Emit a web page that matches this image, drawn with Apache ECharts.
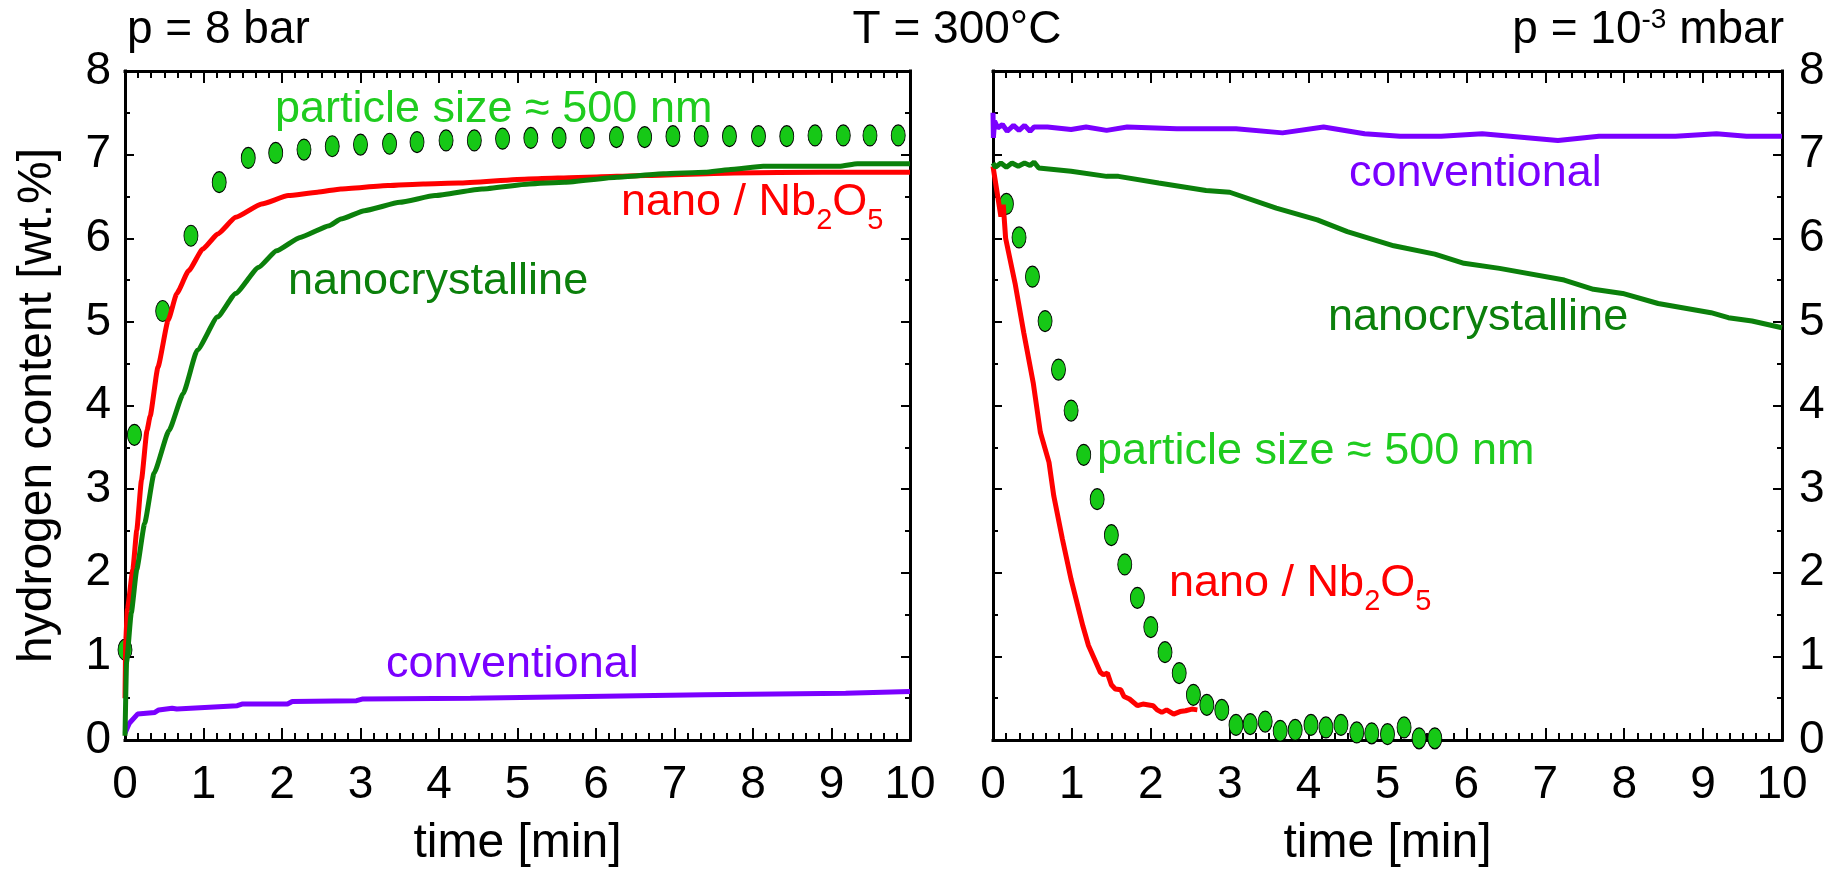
<!DOCTYPE html>
<html>
<head>
<meta charset="utf-8">
<title>Hydrogen content vs time</title>
<script src="https://cdn.jsdelivr.net/npm/echarts@6/dist/echarts.min.js"></script>
<style>
  html, body { margin: 0; padding: 0; background: #fff; }
  #chart { width: 1832px; height: 873px; }
</style>
</head>
<body>
<div id="chart"></div>
<script>
// absorption at p = 8 bar, [time min, wt.%]
const absConventional = [[0, 0.08], [0.055, 0.2], [0.16, 0.31], [0.38, 0.33], [0.43, 0.36], [0.6, 0.38], [0.66, 0.37], [1.43, 0.41], [1.49, 0.43], [2.07, 0.43], [2.13, 0.46], [2.95, 0.47], [3.02, 0.49], [4.4, 0.5], [5.89, 0.52], [7.38, 0.54], [9.18, 0.56], [10, 0.58]];
const absNanoNb = [[0, 0.5], [0.01, 1.2], [0.03, 1.56], [0.1, 2.04], [0.15, 2.51], [0.21, 3.11], [0.28, 3.7], [0.32, 3.87], [0.42, 4.46], [0.55, 5.02], [0.66, 5.34], [0.81, 5.61], [0.99, 5.87], [1.18, 6.05], [1.41, 6.25], [1.74, 6.41], [2.08, 6.51], [2.45, 6.55], [2.75, 6.59], [3.35, 6.63], [3.8, 6.65], [4.25, 6.66], [5.14, 6.71], [5.89, 6.73], [6.64, 6.75], [7.76, 6.78], [8.88, 6.79], [10, 6.79]];
const absNanocryst = [[0, 0.05], [0.02, 0.93], [0.08, 1.52], [0.15, 2.04], [0.25, 2.59], [0.37, 3.19], [0.56, 3.7], [0.74, 4.14], [0.92, 4.66], [1.18, 5.06], [1.41, 5.34], [1.7, 5.65], [1.93, 5.85], [2.23, 6.01], [2.6, 6.15], [2.75, 6.23], [3.05, 6.33], [3.5, 6.43], [3.95, 6.51], [4.55, 6.59], [5.15, 6.65], [5.6, 6.67], [6.27, 6.73], [6.86, 6.77], [7.39, 6.79], [7.69, 6.82], [8.13, 6.86], [9.1, 6.86], [9.33, 6.89], [10, 6.89]];
const absParticle = [[0, 1.08], [0.12, 3.65], [0.48, 5.13], [0.84, 6.03], [1.2, 6.67], [1.57, 6.96], [1.92, 7.02], [2.28, 7.06], [2.64, 7.1], [3.0, 7.12], [3.37, 7.13], [3.72, 7.15], [4.09, 7.17], [4.45, 7.17], [4.81, 7.19], [5.17, 7.2], [5.53, 7.2], [5.89, 7.2], [6.26, 7.21], [6.62, 7.21], [6.98, 7.22], [7.34, 7.22], [7.7, 7.22], [8.07, 7.22], [8.43, 7.22], [8.79, 7.23], [9.15, 7.23], [9.49, 7.23], [9.85, 7.23]];

// desorption at p = 10^-3 mbar
const desConventional = [[0, 7.5], [0.005, 7.2], [0.02, 7.4], [0.06, 7.32], [0.12, 7.36], [0.18, 7.28], [0.26, 7.35], [0.33, 7.29], [0.4, 7.35], [0.47, 7.28], [0.52, 7.33], [0.69, 7.33], [0.99, 7.3], [1.18, 7.33], [1.44, 7.29], [1.7, 7.33], [2.33, 7.31], [3.08, 7.31], [3.67, 7.26], [4.19, 7.33], [4.71, 7.25], [5.16, 7.22], [5.68, 7.22], [6.2, 7.25], [7.16, 7.17], [7.68, 7.22], [8.65, 7.22], [9.17, 7.25], [9.55, 7.22], [10, 7.22]];
const desNanoNb = [[0, 6.86], [0.1, 6.26], [0.13, 6.4], [0.16, 6.0], [0.28, 5.46], [0.39, 4.87], [0.51, 4.27], [0.6, 3.68], [0.71, 3.32], [0.77, 2.92], [0.88, 2.4], [0.99, 1.92], [1.14, 1.36], [1.21, 1.13], [1.36, 0.81], [1.4, 0.78], [1.45, 0.8], [1.5, 0.66], [1.55, 0.61], [1.62, 0.6], [1.66, 0.52], [1.73, 0.49], [1.83, 0.41], [1.9, 0.43], [2.03, 0.41], [2.08, 0.36], [2.14, 0.33], [2.2, 0.36], [2.29, 0.31], [2.37, 0.34], [2.44, 0.35], [2.52, 0.37], [2.59, 0.36]];
const desNanocryst = [[0, 6.9], [0.03, 6.85], [0.1, 6.9], [0.17, 6.85], [0.24, 6.9], [0.32, 6.86], [0.4, 6.9], [0.47, 6.87], [0.52, 6.91], [0.58, 6.84], [0.99, 6.8], [1.44, 6.74], [1.59, 6.74], [2.1, 6.66], [2.7, 6.57], [3.0, 6.55], [3.59, 6.36], [4.11, 6.22], [4.49, 6.08], [5.08, 5.91], [5.6, 5.81], [5.97, 5.7], [6.42, 5.64], [7.24, 5.5], [7.61, 5.39], [7.98, 5.34], [8.43, 5.22], [9.1, 5.11], [9.32, 5.05], [9.62, 5.01], [10, 4.93]];
const desParticle = [[0.17, 6.41], [0.33, 6.01], [0.5, 5.54], [0.66, 5.01], [0.83, 4.43], [0.99, 3.94], [1.15, 3.41], [1.32, 2.88], [1.5, 2.45], [1.67, 2.1], [1.83, 1.7], [2.0, 1.35], [2.18, 1.05], [2.36, 0.8], [2.54, 0.54], [2.71, 0.42], [2.9, 0.36], [3.08, 0.18], [3.26, 0.19], [3.45, 0.22], [3.64, 0.11], [3.83, 0.12], [4.03, 0.18], [4.22, 0.15], [4.41, 0.18], [4.61, 0.09], [4.8, 0.08], [5.0, 0.07], [5.21, 0.15], [5.4, 0.02], [5.6, 0.02]];

const timeRange = [0, 10];
const contentRange = [0, 8];

const FONT = "'Liberation Sans', Arial, Helvetica, sans-serif";
const C_RED = '#ff0000';
const C_DKGREEN = '#0b800b';
const C_PURPLE = '#7a00ff';
const C_DOT = '#16c816';
const C_LBLGREEN = '#1fcc1f';
const ANNO = 45;

function xAxisFor(grid, pos, labels) {
  return {
    type: 'value', gridIndex: grid, position: pos,
    min: timeRange[0], max: timeRange[1], interval: 1,
    axisLine: { show: true, onZero: false, lineStyle: { color: '#000', width: 3, cap: 'square' } },
    axisTick: { show: true, inside: true, length: 12, lineStyle: { color: '#000', width: 2 } },
    minorTick: { show: true, splitNumber: 6, length: 7, lineStyle: { color: '#000', width: 2 } },
    axisLabel: { show: labels, margin: 22, fontSize: 46, color: '#000', fontFamily: FONT },
    splitLine: { show: false },
    name: labels ? 'time [min]' : '',
    nameLocation: 'middle', nameGap: 80, nameMoveOverlap: false,
    nameTextStyle: { fontSize: 48, color: '#000', fontFamily: FONT }
  };
}

function yAxisFor(grid, pos, labels, name) {
  return {
    type: 'value', gridIndex: grid, position: pos,
    min: contentRange[0], max: contentRange[1], interval: 1,
    axisLine: { show: true, onZero: false, lineStyle: { color: '#000', width: 3, cap: 'square' } },
    axisTick: { show: true, inside: true, length: 9, lineStyle: { color: '#000', width: 2 } },
    minorTick: { show: true, splitNumber: 2, length: 5, lineStyle: { color: '#000', width: 2 } },
    axisLabel: { show: labels, margin: pos === 'left' ? 14 : 17, padding: [12, 0, 0, 0], fontSize: 46, color: '#000', fontFamily: FONT },
    splitLine: { show: false },
    name: name || '',
    nameLocation: 'middle', nameGap: 63, nameMoveOverlap: false,
    nameTextStyle: { fontSize: 48, color: '#000', fontFamily: FONT }
  };
}

function lineSeries(name, data, color, xi, yi, smooth) {
  return {
    name: name, type: 'line', data: data, xAxisIndex: xi, yAxisIndex: yi,
    showSymbol: false, symbol: 'none', clip: false,
    smooth: smooth || false, smoothMonotone: 'x',
    lineStyle: { color: color, width: 5 }
  };
}

function dotSeries(name, data, xi, yi) {
  return {
    name: name, type: 'scatter', data: data, xAxisIndex: xi, yAxisIndex: yi,
    symbol: 'path://M0,1A1,1 0 1 1 2,1A1,1 0 1 1 0,1Z',
    symbolSize: [14, 21], clip: false,
    itemStyle: { color: C_DOT, borderColor: '#000', borderWidth: 1, opacity: 1 }
  };
}

function label(x, y, text, color, size) {
  return {
    type: 'text', x: x, y: y, z: 100,
    style: { text: text, fill: color, fontSize: size || ANNO, fontFamily: FONT, align: 'left', verticalAlign: 'middle' }
  };
}

// "nano / Nb2O5" with subscripts
function nbLabel(x, y) {
  const base = { fill: C_RED, fontFamily: FONT };
  return {
    type: 'text', x: x, y: y, z: 100,
    style: {
      text: '{m|nano / Nb}{s|2}{m|O}{s|5}{z| }',
      align: 'left', verticalAlign: 'middle',
      rich: {
        m: Object.assign({ fontSize: ANNO, lineHeight: ANNO, verticalAlign: 'top' }, base),
        s: Object.assign({ fontSize: 29, lineHeight: 29, verticalAlign: 'bottom' }, base),
        z: Object.assign({ fontSize: 1, lineHeight: 55, verticalAlign: 'bottom' }, base)
      }
    }
  };
}

const chart = echarts.init(document.getElementById('chart'));

chart.setOption({
  animation: false,
  backgroundColor: '#fff',
  grid: [
    { left: 125, top: 71, width: 785, height: 669, outerBoundsMode: 'none' },
    { left: 993, top: 71, width: 789, height: 669, outerBoundsMode: 'none' }
  ],
  xAxis: [
    xAxisFor(0, 'bottom', true),
    xAxisFor(0, 'top', false),
    xAxisFor(1, 'bottom', true),
    xAxisFor(1, 'top', false)
  ],
  yAxis: [
    yAxisFor(0, 'left', true, 'hydrogen content [wt.%]'),
    yAxisFor(0, 'right', false),
    yAxisFor(1, 'right', true),
    yAxisFor(1, 'left', false)
  ],
  series: [
    lineSeries('conventional', absConventional, C_PURPLE, 0, 0),
    lineSeries('nano / Nb2O5', absNanoNb, C_RED, 0, 0, 0.15),
    lineSeries('nanocrystalline', absNanocryst, C_DKGREEN, 0, 0, 0.15),
    dotSeries('particle size ≈ 500 nm', absParticle, 0, 0),
    lineSeries('conventional', desConventional, C_PURPLE, 2, 2),
    lineSeries('nano / Nb2O5', desNanoNb, C_RED, 2, 2),
    lineSeries('nanocrystalline', desNanocryst, C_DKGREEN, 2, 2),
    dotSeries('particle size ≈ 500 nm', desParticle, 2, 2)
  ],
  graphic: [
    label(127, 30, 'p = 8 bar', '#000', 46),
    {
      type: 'text', x: 957, y: 30, z: 100,
      style: { text: 'T = 300°C', fill: '#000', fontSize: 46, fontFamily: FONT, align: 'center', verticalAlign: 'middle' }
    },
    {
      type: 'text', x: 1784, y: 30, z: 100,
      style: {
        text: '{m|p = 10}{u|-3}{m| mbar}',
        align: 'right', verticalAlign: 'middle',
        rich: {
          m: { fontSize: 46, lineHeight: 47, verticalAlign: 'bottom', fill: '#000', fontFamily: FONT },
          u: { fontSize: 28, lineHeight: 28, verticalAlign: 'top', fill: '#000', fontFamily: FONT }
        }
      }
    },
    // left panel annotations
    label(275, 110, 'particle size ≈ 500 nm', C_LBLGREEN),
    nbLabel(621, 208),
    label(288, 282, 'nanocrystalline', C_DKGREEN),
    label(386, 665, 'conventional', C_PURPLE),
    // right panel annotations
    label(1349, 174, 'conventional', C_PURPLE),
    label(1328, 318, 'nanocrystalline', C_DKGREEN),
    label(1097, 452, 'particle size ≈ 500 nm', C_LBLGREEN),
    nbLabel(1169, 589)
  ]
});

window.addEventListener('resize', function () { chart.resize(); });
</script>
</body>
</html>
